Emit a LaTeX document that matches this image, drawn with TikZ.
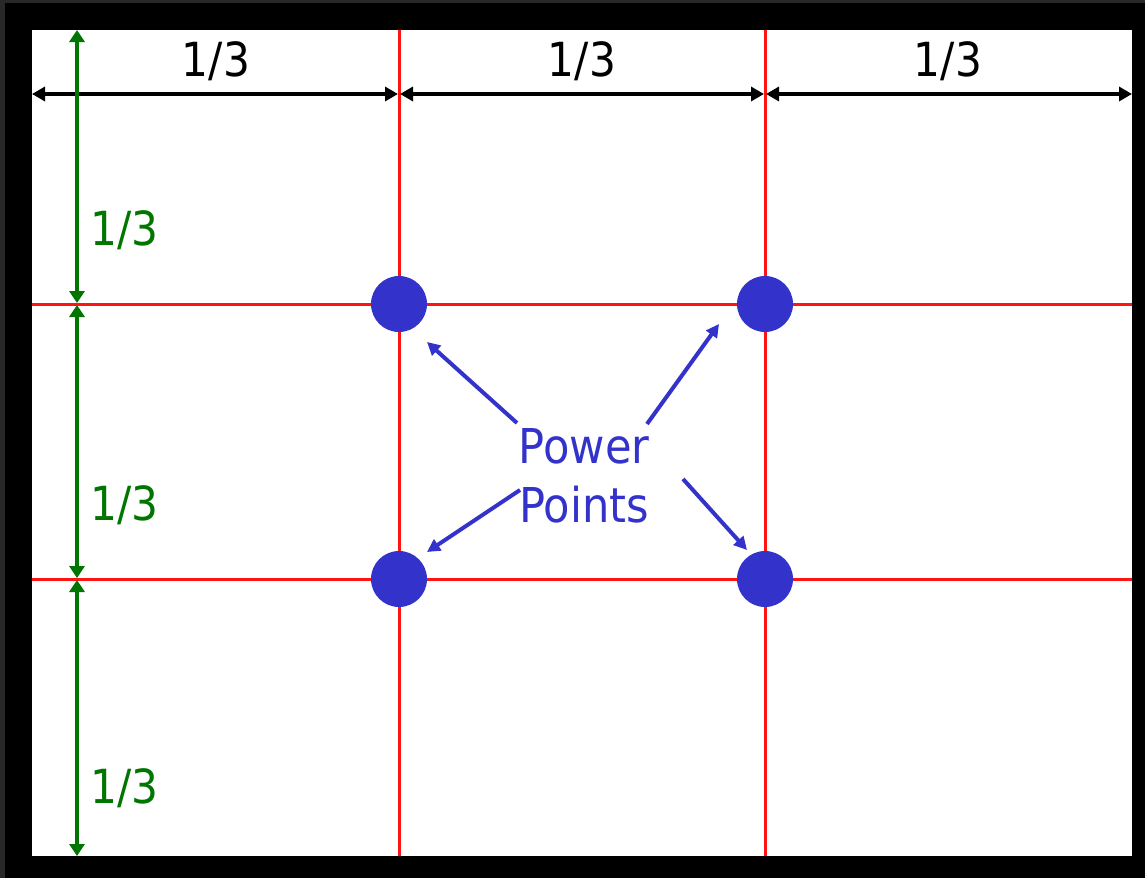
\documentclass[tikz,border=0pt]{standalone}
\usepackage{fontspec}
\setmainfont{DejaVu Sans}[FakeStretch=0.9]
\usetikzlibrary{arrows.meta}
\definecolor{frameGrey}{RGB}{40,40,40}
\definecolor{gridRed}{RGB}{255,20,20}
\definecolor{dimGreen}{RGB}{0,118,0}
\definecolor{dotBlue}{RGB}{51,51,204}
\tikzset{
  gridline/.style={draw=gridRed, line width=3pt},
  blackdim/.style={draw=black, line width=4.5pt, {Triangle[length=13pt,width=14pt]}-{Triangle[length=13pt,width=14pt]}},
  greendim/.style={draw=dimGreen, line width=4.5pt, {Triangle[length=12pt,width=15pt]}-{Triangle[length=12pt,width=15pt]}},
  blackdimlabel/.style={anchor=base, font=\fontsize{47}{56}\selectfont, text=black, inner sep=0pt},
  greendimlabel/.style={anchor=base west, font=\fontsize{47}{56}\selectfont, text=dimGreen, inner sep=0pt},
  powerdot/.style={circle, fill=dotBlue, minimum size=56pt, inner sep=0pt},
  pointer/.style={draw=dotBlue, line width=4pt, -{Triangle[length=13pt,width=13pt]}},
  pplabel/.style={font=\fontsize{48}{59}\selectfont, text=dotBlue, align=center, inner sep=0pt}
}
\begin{document}
\begin{tikzpicture}[x=1pt, y=-1pt]
\useasboundingbox (0,0) rectangle (1145,878);
\fill[frameGrey] (0,0) rectangle (1145,878);
\fill[black] (5,3) rectangle (1145,878);
\fill[white] (32,30) rectangle (1132,856);
% grid
\draw[gridline] (399,30) -- (399,856);
\draw[gridline] (765,30) -- (765,856);
\draw[gridline] (32,304) -- (1132,304);
\draw[gridline] (32,579) -- (1132,579);
% horizontal dimensions
\coordinate (h0) at (32,94);
\coordinate (h1a) at (398,94);
\coordinate (h1b) at (400,94);
\coordinate (h2a) at (764,94);
\coordinate (h2b) at (766,94);
\coordinate (h3) at (1132,94);
\draw[blackdim] (h0) -- (h1a);
\draw[blackdim] (h1b) -- (h2a);
\draw[blackdim] (h2b) -- (h3);
\node[blackdimlabel] (t1) at (216,76) {1/3};
\node[blackdimlabel] (t2) at (582,76) {1/3};
\node[blackdimlabel] (t3) at (948,76) {1/3};
% vertical dimensions
\coordinate (v0) at (77,30);
\coordinate (v1a) at (77,303);
\coordinate (v1b) at (77,305);
\coordinate (v2a) at (77,578);
\coordinate (v2b) at (77,580);
\coordinate (v3) at (77,856);
\draw[greendim] (v0) -- (v1a);
\draw[greendim] (v1b) -- (v2a);
\draw[greendim] (v2b) -- (v3);
\node[greendimlabel] (g1) at (90,245) {1/3};
\node[greendimlabel] (g2) at (90,520) {1/3};
\node[greendimlabel] (g3) at (90,803) {1/3};
% power points
\node[powerdot] (p1) at (399,304) {};
\node[powerdot] (p2) at (765,304) {};
\node[powerdot] (p3) at (399,579) {};
\node[powerdot] (p4) at (765,579) {};
\node[pplabel] (pp) at (584,476) {Power\\Points};
\coordinate (s1) at (517,423);
\coordinate (e1) at (427,342);
\coordinate (s2) at (647,424);
\coordinate (e2) at (719,324);
\coordinate (s3) at (520,490);
\coordinate (e3) at (427,552);
\coordinate (s4) at (683,479);
\coordinate (e4) at (747,550);
\draw[pointer] (s1) -- (e1);
\draw[pointer] (s2) -- (e2);
\draw[pointer] (s3) -- (e3);
\draw[pointer] (s4) -- (e4);
\end{tikzpicture}
\end{document}
